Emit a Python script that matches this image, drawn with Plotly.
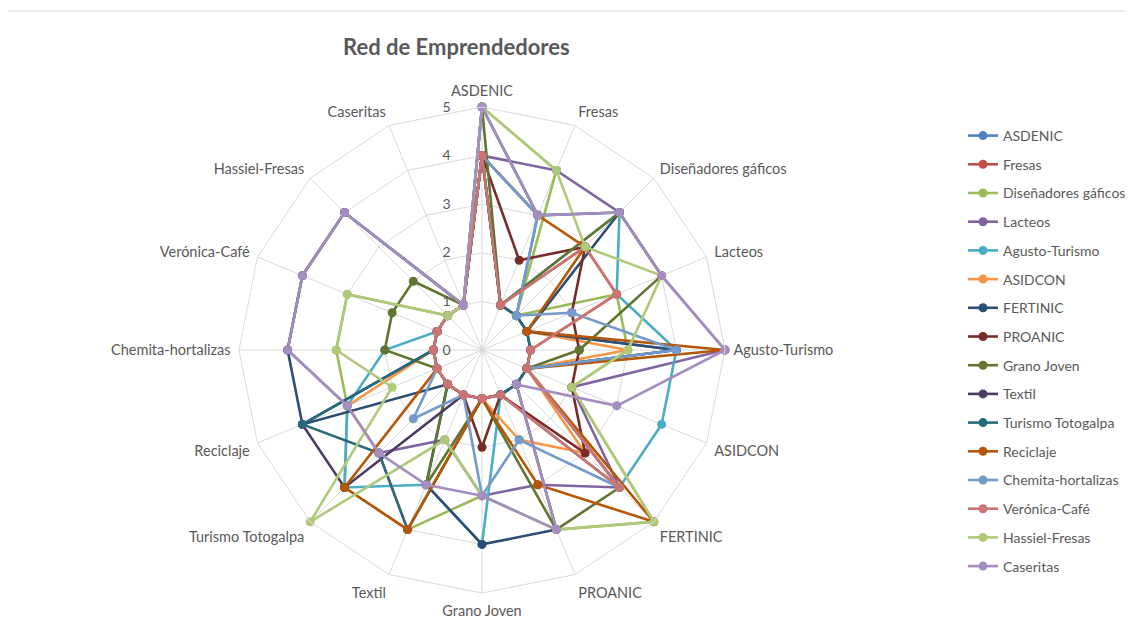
import plotly.graph_objects as go

categories = ["ASDENIC", "Fresas", "Diseñadores gáficos", "Lacteos", "Agusto-Turismo",
              "ASIDCON", "FERTINIC", "PROANIC", "Grano Joven", "Textil",
              "Turismo Totogalpa", "Reciclaje", "Chemita-hortalizas", "Verónica-Café",
              "Hassiel-Fresas", "Caseritas"]

series_names = ["ASDENIC", "Fresas", "Diseñadores gáficos", "Lacteos", "Agusto-Turismo",
                "ASIDCON", "FERTINIC", "PROANIC", "Grano Joven", "Textil",
                "Turismo Totogalpa", "Reciclaje", "Chemita-hortalizas", "Verónica-Café",
                "Hassiel-Fresas", "Caseritas"]

asdenic = [4, 3, 1, 1, 4, 1, 1, 1, 1, 1, 1, 1, 1, 1, 1, 1]
fresas = [4, 1, 3, 3, 1, 1, 4, 1, 1, 1, 1, 1, 1, 1, 1, 1]
disenadores = [5, 4, 1, 3, 3, 2, 5, 4, 3, 4, 4, 3, 3, 3, 1, 1]
lacteos = [4, 4, 4, 4, 5, 2, 4, 3, 3, 2, 3, 3, 4, 4, 4, 1]
agusto = [4, 1, 4, 3, 4, 4, 4, 1, 4, 3, 4, 3, 2, 1, 1, 1]
asidcon = [4, 1, 1, 1, 3, 1, 3, 2, 1, 4, 3, 3, 1, 1, 1, 1]
fertinic = [5, 3, 4, 1, 4, 1, 1, 4, 4, 3, 1, 4, 4, 4, 4, 1]
proanic = [4, 2, 3, 2, 2, 2, 3, 1, 2, 1, 1, 1, 1, 1, 1, 1]
grano = [5, 1, 4, 4, 2, 1, 4, 4, 1, 3, 1, 1, 2, 2, 2, 1]
textil = [4, 1, 1, 1, 1, 1, 1, 1, 1, 1, 4, 4, 1, 1, 1, 1]
totogalpa = [4, 1, 1, 1, 1, 1, 1, 1, 1, 4, 3, 4, 1, 1, 1, 1]
reciclaje = [4, 3, 3, 1, 5, 1, 5, 3, 1, 4, 4, 1, 1, 1, 1, 1]
chemita = [4, 3, 1, 2, 4, 1, 4, 2, 3, 1, 2, 1, 1, 1, 1, 1]
veronica = [4, 1, 3, 3, 1, 1, 4, 1, 1, 1, 1, 1, 1, 1, 1, 1]
hassiel = [5, 4, 3, 4, 3, 2, 5, 4, 3, 2, 5, 2, 3, 3, 1, 1]
caseritas = [5, 3, 4, 4, 5, 3, 1, 4, 3, 3, 3, 3, 4, 4, 4, 1]

all_values = [asdenic, fresas, disenadores, lacteos, agusto, asidcon, fertinic, proanic,
              grano, textil, totogalpa, reciclaje, chemita, veronica, hassiel, caseritas]

colors = ["#4F81BD", "#C0504D", "#9BBB59", "#8064A2", "#4BACC6", "#F79646",
          "#2C4D75", "#772C2A", "#5F7530", "#4D3B62", "#276A7C", "#B65708",
          "#729ACA", "#CD7371", "#AFC97A", "#A58EBF"]

radial_ticks = [0, 1, 2, 3, 4, 5]

# page body has an 8px margin, so the figure is offset by 8px
OFF = 8
W, H = 1134 - OFF, 637 - OFF
cx, cy, R = 482 - OFF, 350 - OFF, 243

fig = go.Figure()
for name, vals, col in zip(series_names, all_values, colors):
    fig.add_trace(go.Scatterpolar(
        r=vals + [vals[0]],
        theta=categories + [categories[0]],
        mode="lines+markers",
        name=name,
        legendgroup=name,
        line=dict(color=col, width=2.6),
        marker=dict(color=col, size=9),
    ))

font_main = "Lato, 'Open Sans', sans-serif"
pad = "\u00a0" * 8

fig.update_layout(
    width=W, height=H,
    paper_bgcolor="white",
    plot_bgcolor="white",
    margin=dict(l=0, r=0, t=0, b=0),
    font=dict(family=font_main, size=14, color="#595959"),
    polar=dict(
        domain=dict(x=[(cx - R) / W, (cx + R) / W],
                    y=[(H - cy - R) / H, (H - cy + R) / H]),
        gridshape="linear",
        bgcolor="white",
        radialaxis=dict(
            range=[0, 5],
            tickvals=radial_ticks,
            ticktext=[str(v) + pad for v in radial_ticks],
            angle=90,
            tickangle=90,
            side="counterclockwise",
            showline=False,
            ticks="",
            gridcolor="#D9D9D9",
            gridwidth=1,
            tickfont=dict(size=14, color="#595959"),
        ),
        angularaxis=dict(
            rotation=90,
            direction="clockwise",
            showline=True,
            linecolor="#D9D9D9",
            linewidth=1,
            gridcolor="#D9D9D9",
            gridwidth=1,
            ticks="outside",
            ticklen=5,
            tickcolor="rgba(0,0,0,0)",
            tickfont=dict(size=14.5, color="#595959"),
        ),
    ),
    legend=dict(
        x=955 / W, y=1 - 112 / H,
        xanchor="left", yanchor="top",
        font=dict(size=14, color="#595959"),
        tracegroupgap=7.5,
        bgcolor="rgba(0,0,0,0)",
    ),
    showlegend=True,
)

fig.add_annotation(
    text="<b>Red de Emprendedores</b>",
    x=(456 - OFF) / W, y=1 - (46 - OFF) / H, xref="paper", yref="paper",
    xanchor="center", yanchor="middle", showarrow=False,
    font=dict(size=22, color="#595959", family=font_main),
)

fig.add_shape(type="line", xref="paper", yref="paper",
              x0=0, x1=1, y0=1 - (11 - OFF) / H, y1=1 - (11 - OFF) / H,
              line=dict(color="#D9D9D9", width=1), layer="below")

fig.write_html("out.html")
